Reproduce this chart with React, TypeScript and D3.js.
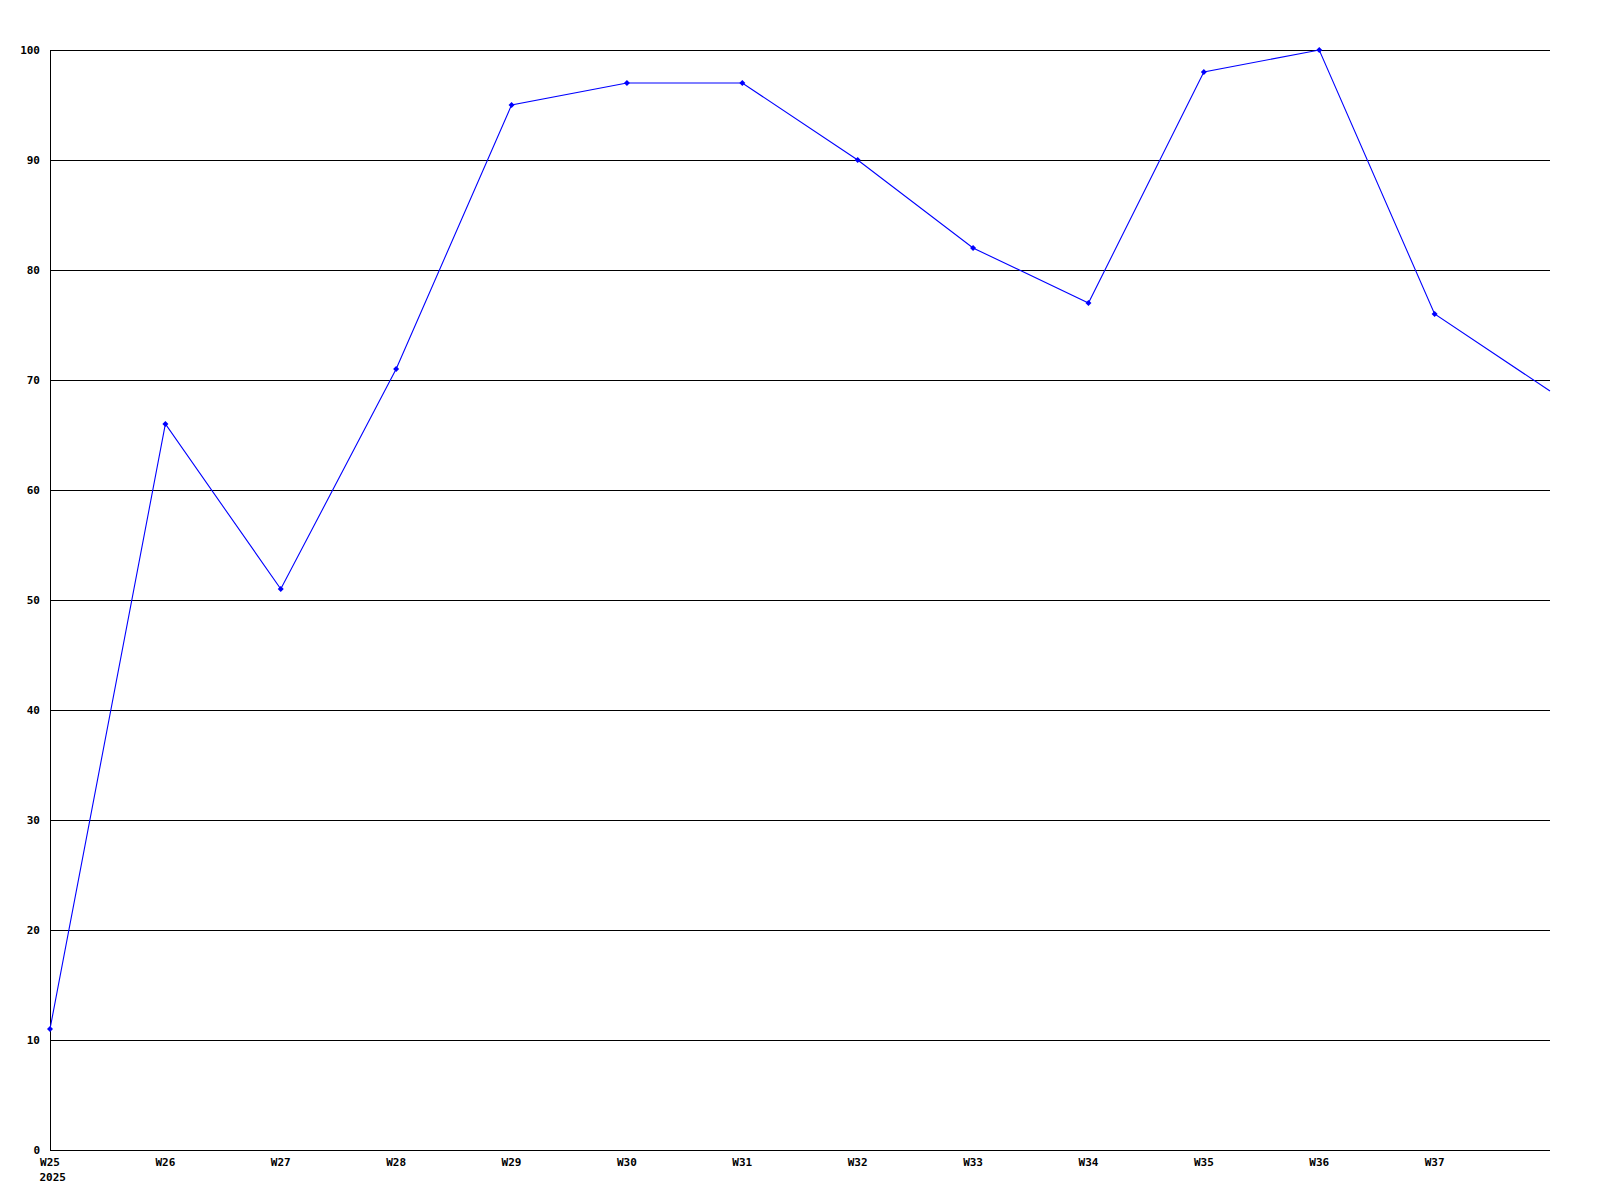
import React from "react";
import * as d3 from "d3";

const weeks = ["W25", "W26", "W27", "W28", "W29", "W30", "W31", "W32", "W33", "W34", "W35", "W36", "W37", "W38"];
const values = [11, 66, 51, 71, 95, 97, 97, 90, 82, 77, 98, 100, 76, 69];
const yTicks = [0, 10, 20, 30, 40, 50, 60, 70, 80, 90, 100];
const tickLabels = ["W25", "W26", "W27", "W28", "W29", "W30", "W31", "W32", "W33", "W34", "W35", "W36", "W37"];
const yearLabel = "2025";

export default function App() {
  const W = 1600, H = 1200;
  const left = 50, right = 1550, top = 50, bottom = 1150;
  const x = d3.scaleLinear().domain([0, weeks.length - 1]).range([left, right]);
  const y = d3.scaleLinear().domain([0, 100]).range([bottom, top]);
  const line = d3.line<number>().x((_, i) => x(i)).y((d) => y(d));
  const font = "'DejaVu Sans Mono', monospace";
  return (
    <svg width={W} height={H} style={{ position: "absolute", left: 0, top: 0, background: "#fff" }}>
      <rect width={W} height={H} fill="#fff" />
      {yTicks.map((t) => (
        <g key={t}>
          <line x1={left} x2={right} y1={Math.round(y(t)) + 0.5} y2={Math.round(y(t)) + 0.5} stroke="#000" strokeWidth={1} shapeRendering="crispEdges" />
          <text x={40} y={y(t)} dy="0.35em" textAnchor="end" fontFamily={font} fontWeight="bold" fontSize={11} fill="#000">{t}</text>
        </g>
      ))}
      <line x1={left + 0.5} x2={left + 0.5} y1={top} y2={bottom + 1} stroke="#000" strokeWidth={1} shapeRendering="crispEdges" />
      {tickLabels.map((l, i) => (
        <text key={l} x={x(i)} y={1166} textAnchor="middle" fontFamily={font} fontWeight="bold" fontSize={11} fill="#000">{l}</text>
      ))}
      <text x={x(0) - 10.5} y={1181} textAnchor="start" fontFamily={font} fontWeight="bold" fontSize={11} fill="#000">{yearLabel}</text>
      <path d={line(values) || ""} fill="none" stroke="#0000ff" strokeWidth={1.1} />
      {values.slice(0, values.length - 1).map((v, i) => (
        <path key={i} d={`M${x(i)},${y(v) - 3}L${x(i) + 3},${y(v)}L${x(i)},${y(v) + 3}L${x(i) - 3},${y(v)}Z`} fill="#0000ff" />
      ))}
    </svg>
  );
}
